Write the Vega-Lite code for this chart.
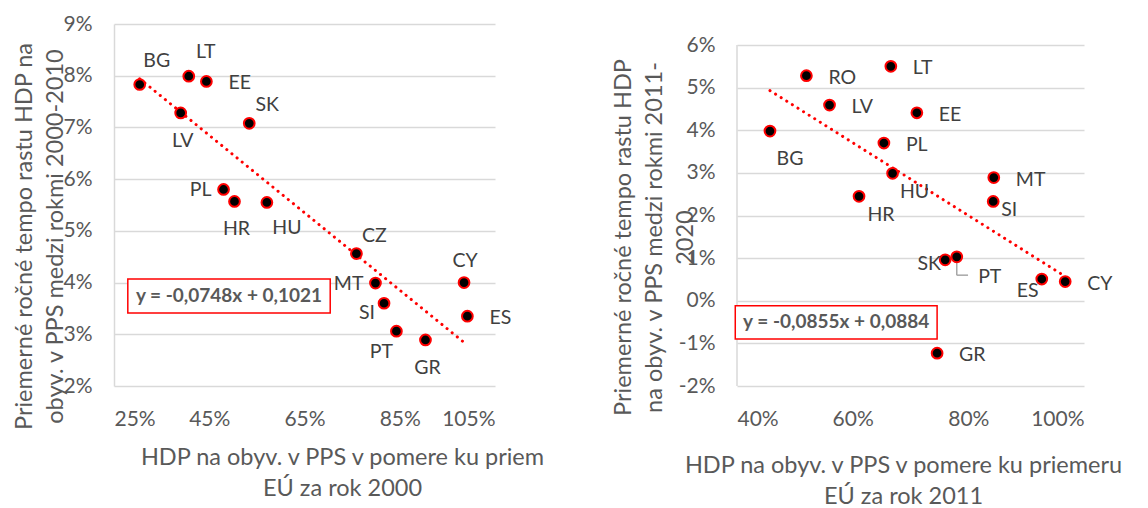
{
  "$schema": "https://vega.github.io/schema/vega-lite/v6.json",
  "background": "white",
  "padding": {"left": 11, "top": 13, "right": 0, "bottom": 0},
  "spacing": 242,
  "bounds": "flush",
  "config": {
    "font": "Lato",
    "view": {"stroke": null},
    "axis": {
      "labelColor": "#595959", "titleColor": "#595959",
      "labelFont": "Lato", "titleFont": "Lato",
      "labelFontSize": 21, "titleFontSize": 23.5, "titleFontWeight": "normal",
      "gridColor": "#d9d9d9", "gridWidth": 1.5,
      "domainColor": "#d9d9d9", "domainWidth": 1.5,
      "ticks": false, "titleLineHeight": 31
    },
    "text": {"font": "Lato", "fontSize": 19.5, "color": "#404040"}
  },
  "datasets": {
    "d2000": [
      {"c": "BG", "x": 0.304, "y": 0.0783},
      {"c": "LT", "x": 0.407, "y": 0.0799},
      {"c": "EE", "x": 0.444, "y": 0.0789},
      {"c": "LV", "x": 0.390, "y": 0.0728},
      {"c": "SK", "x": 0.534, "y": 0.0708},
      {"c": "PL", "x": 0.480, "y": 0.0580},
      {"c": "HR", "x": 0.503, "y": 0.0557},
      {"c": "HU", "x": 0.571, "y": 0.0555},
      {"c": "CZ", "x": 0.759, "y": 0.0456},
      {"c": "MT", "x": 0.799, "y": 0.0399},
      {"c": "SI", "x": 0.817, "y": 0.0360},
      {"c": "CY", "x": 0.985, "y": 0.0400},
      {"c": "ES", "x": 0.992, "y": 0.0335},
      {"c": "PT", "x": 0.843, "y": 0.0306},
      {"c": "GR", "x": 0.904, "y": 0.0289}
    ],
    "d2011": [
      {"c": "RO", "x": 0.520, "y": 0.0528},
      {"c": "LT", "x": 0.666, "y": 0.0550},
      {"c": "LV", "x": 0.560, "y": 0.0459},
      {"c": "EE", "x": 0.711, "y": 0.0441},
      {"c": "BG", "x": 0.457, "y": 0.0398},
      {"c": "PL", "x": 0.654, "y": 0.0370},
      {"c": "HU", "x": 0.669, "y": 0.0299},
      {"c": "HR", "x": 0.611, "y": 0.0245},
      {"c": "MT", "x": 0.844, "y": 0.0289},
      {"c": "SI", "x": 0.843, "y": 0.0233},
      {"c": "SK", "x": 0.760, "y": 0.0096},
      {"c": "PT", "x": 0.780, "y": 0.0103},
      {"c": "ES", "x": 0.927, "y": 0.0051},
      {"c": "CY", "x": 0.9675, "y": 0.0045},
      {"c": "GR", "x": 0.746, "y": -0.0123}
    ],
    "t2000": [
      {"x": 0.304, "y": 0.0794},
      {"x": 0.992, "y": 0.0279}
    ],
    "t2011": [
      {"x": 0.457, "y": 0.0493},
      {"x": 0.9675, "y": 0.0057}
    ]
  },
  "hconcat": [
    {
      "width": 381,
      "height": 362,
      "layer": [
        {
          "data": {"name": "t2000"},
          "mark": {"type": "line", "color": "#ff0000", "strokeWidth": 3, "strokeCap": "round", "strokeDash": [0.1, 6.5]},
          "encoding": {
            "x": {"field": "x", "type": "quantitative",
              "scale": {"domain": [0.25, 1.05], "nice": false, "zero": false},
              "axis": {"values": [0.25, 0.45, 0.65, 0.85, 1.05], "format": ".0%", "grid": false, "domain": false,
                "labelPadding": 22, "titlePadding": 16, "titleX": 228,
                "title": ["HDP na obyv. v PPS v pomere ku priem", "EÚ za rok 2000"]}},
            "y": {"field": "y", "type": "quantitative",
              "scale": {"domain": [0.02, 0.09], "nice": false, "zero": false},
              "axis": {"values": [0.02, 0.03, 0.04, 0.05, 0.06, 0.07, 0.08, 0.09], "format": ".0%", "grid": true, "domain": true,
                "labelPadding": 22, "titleX": -90, "titleY": 212, "titleBaseline": "middle",
                "title": ["Priemerné ročné tempo rastu HDP na", "obyv. v PPS medzi rokmi 2000-2010"]}}
          }
        },
        {
          "data": {"name": "d2000"},
          "mark": {"type": "point", "filled": true, "fill": "#000000", "stroke": "#ff0000", "strokeWidth": 2, "size": 115, "opacity": 1},
          "encoding": {"x": {"field": "x", "type": "quantitative"}, "y": {"field": "y", "type": "quantitative"}}
        },
        {
          "data": {"name": "d2000"},
          "transform": [{"filter": {"field": "c", "oneOf": ["BG", "LT"]}}],
          "mark": {"type": "text", "dx": 17, "dy": -24},
          "encoding": {"x": {"field": "x", "type": "quantitative"}, "y": {"field": "y", "type": "quantitative"}, "text": {"field": "c"}}
        },
        {
          "data": {"name": "d2000"},
          "transform": [{"filter": {"field": "c", "oneOf": ["SK", "CZ"]}}],
          "mark": {"type": "text", "dx": 18, "dy": -18},
          "encoding": {"x": {"field": "x", "type": "quantitative"}, "y": {"field": "y", "type": "quantitative"}, "text": {"field": "c"}}
        },
        {
          "data": {"name": "d2000"},
          "transform": [{"filter": {"field": "c", "oneOf": ["EE", "ES"]}}],
          "mark": {"type": "text", "align": "left", "dx": 22, "dy": 2},
          "encoding": {"x": {"field": "x", "type": "quantitative"}, "y": {"field": "y", "type": "quantitative"}, "text": {"field": "c"}}
        },
        {
          "data": {"name": "d2000"},
          "transform": [{"filter": {"field": "c", "oneOf": ["LV", "HR", "GR"]}}],
          "mark": {"type": "text", "dx": 2, "dy": 28},
          "encoding": {"x": {"field": "x", "type": "quantitative"}, "y": {"field": "y", "type": "quantitative"}, "text": {"field": "c"}}
        },
        {
          "data": {"name": "d2000"},
          "transform": [{"filter": {"field": "c", "oneOf": ["HU"]}}],
          "mark": {"type": "text", "dx": 20, "dy": 26},
          "encoding": {"x": {"field": "x", "type": "quantitative"}, "y": {"field": "y", "type": "quantitative"}, "text": {"field": "c"}}
        },
        {
          "data": {"name": "d2000"},
          "transform": [{"filter": {"field": "c", "oneOf": ["PL", "MT"]}}],
          "mark": {"type": "text", "align": "right", "dx": -12, "dy": 1},
          "encoding": {"x": {"field": "x", "type": "quantitative"}, "y": {"field": "y", "type": "quantitative"}, "text": {"field": "c"}}
        },
        {
          "data": {"name": "d2000"},
          "transform": [{"filter": {"field": "c", "oneOf": ["SI"]}}],
          "mark": {"type": "text", "dx": -17, "dy": 10},
          "encoding": {"x": {"field": "x", "type": "quantitative"}, "y": {"field": "y", "type": "quantitative"}, "text": {"field": "c"}}
        },
        {
          "data": {"name": "d2000"},
          "transform": [{"filter": {"field": "c", "oneOf": ["PT"]}}],
          "mark": {"type": "text", "dx": -15, "dy": 21},
          "encoding": {"x": {"field": "x", "type": "quantitative"}, "y": {"field": "y", "type": "quantitative"}, "text": {"field": "c"}}
        },
        {
          "data": {"name": "d2000"},
          "transform": [{"filter": {"field": "c", "oneOf": ["CY"]}}],
          "mark": {"type": "text", "dx": 1, "dy": -22},
          "encoding": {"x": {"field": "x", "type": "quantitative"}, "y": {"field": "y", "type": "quantitative"}, "text": {"field": "c"}}
        },
        {
          "data": {"values": [{}]},
          "mark": {"type": "rect", "fill": "white", "stroke": "#ff0000", "strokeWidth": 1.5},
          "encoding": {
            "x": {"datum": 0.279, "type": "quantitative"}, "x2": {"datum": 0.704},
            "y": {"datum": 0.0407, "type": "quantitative"}, "y2": {"datum": 0.0341}
          }
        },
        {
          "data": {"values": [{}]},
          "mark": {"type": "text", "fontWeight": "bold", "fontSize": 19, "color": "#595959", "text": "y = -0,0748x + 0,1021"},
          "encoding": {
            "x": {"datum": 0.4915, "type": "quantitative"},
            "y": {"datum": 0.0374, "type": "quantitative"}
          }
        }
      ]
    },
    {
      "width": 347,
      "height": 362,
      "layer": [
        {
          "data": {"name": "t2011"},
          "mark": {"type": "line", "color": "#ff0000", "strokeWidth": 3, "strokeCap": "round", "strokeDash": [0.1, 6.5]},
          "encoding": {
            "x": {"field": "x", "type": "quantitative",
              "scale": {"domain": [0.4, 1.0], "nice": false, "zero": false},
              "axis": {"values": [0.4, 0.6, 0.8, 1.0], "format": ".0%", "grid": false, "domain": false,
                "labelPadding": 22, "titlePadding": 24, "titleX": 166,
                "title": ["HDP na obyv. v PPS v pomere ku priemeru", "EÚ za rok 2011"]}},
            "y": {"field": "y", "type": "quantitative",
              "scale": {"domain": [-0.02, 0.064927], "nice": false, "zero": false},
              "axis": {"values": [-0.02, -0.01, 0, 0.01, 0.02, 0.03, 0.04, 0.05, 0.06],
                "labelExpr": "replace(format(datum.value, '.0%'), '\u2212', '-')", "grid": true, "domain": false,
                "labelPadding": 22, "titleX": -114, "titleY": 213, "titleBaseline": "middle",
                "title": ["Priemerné ročné tempo rastu HDP", "na obyv. v PPS medzi rokmi 2011-", "2020"]}}
          }
        },
        {
          "data": {"values": [{}]},
          "mark": {"type": "rule", "color": "#d9d9d9", "strokeWidth": 1.5},
          "encoding": {
            "x": {"datum": 0.4, "type": "quantitative"},
            "y": {"datum": -0.02, "type": "quantitative"}, "y2": {"datum": 0.06}
          }
        },
        {
          "data": {"values": [{}]},
          "mark": {"type": "rule", "color": "#a6a6a6", "strokeWidth": 1.5},
          "encoding": {
            "x": {"datum": 0.78, "type": "quantitative"},
            "y": {"datum": 0.0089, "type": "quantitative"}, "y2": {"datum": 0.006}
          }
        },
        {
          "data": {"values": [{}]},
          "mark": {"type": "rule", "color": "#a6a6a6", "strokeWidth": 1.5},
          "encoding": {
            "x": {"datum": 0.78, "type": "quantitative"}, "x2": {"datum": 0.7995},
            "y": {"datum": 0.006, "type": "quantitative"}
          }
        },
        {
          "data": {"name": "d2011"},
          "mark": {"type": "point", "filled": true, "fill": "#000000", "stroke": "#ff0000", "strokeWidth": 2, "size": 115, "opacity": 1},
          "encoding": {"x": {"field": "x", "type": "quantitative"}, "y": {"field": "y", "type": "quantitative"}}
        },
        {
          "data": {"name": "d2011"},
          "transform": [{"filter": {"field": "c", "oneOf": ["RO", "LT", "LV", "EE", "PL", "MT", "CY", "GR"]}}],
          "mark": {"type": "text", "align": "left", "dx": 22, "dy": 2},
          "encoding": {"x": {"field": "x", "type": "quantitative"}, "y": {"field": "y", "type": "quantitative"}, "text": {"field": "c"}}
        },
        {
          "data": {"name": "d2011"},
          "transform": [{"filter": {"field": "c", "oneOf": ["BG"]}}],
          "mark": {"type": "text", "dx": 20, "dy": 28},
          "encoding": {"x": {"field": "x", "type": "quantitative"}, "y": {"field": "y", "type": "quantitative"}, "text": {"field": "c"}}
        },
        {
          "data": {"name": "d2011"},
          "transform": [{"filter": {"field": "c", "oneOf": ["HU", "HR"]}}],
          "mark": {"type": "text", "dx": 22, "dy": 19},
          "encoding": {"x": {"field": "x", "type": "quantitative"}, "y": {"field": "y", "type": "quantitative"}, "text": {"field": "c"}}
        },
        {
          "data": {"name": "d2011"},
          "transform": [{"filter": {"field": "c", "oneOf": ["PT"]}}],
          "mark": {"type": "text", "dx": 33, "dy": 20},
          "encoding": {"x": {"field": "x", "type": "quantitative"}, "y": {"field": "y", "type": "quantitative"}, "text": {"field": "c"}}
        },
        {
          "data": {"name": "d2011"},
          "transform": [{"filter": {"field": "c", "oneOf": ["SI"]}}],
          "mark": {"type": "text", "dx": 16, "dy": 9},
          "encoding": {"x": {"field": "x", "type": "quantitative"}, "y": {"field": "y", "type": "quantitative"}, "text": {"field": "c"}}
        },
        {
          "data": {"name": "d2011"},
          "transform": [{"filter": {"field": "c", "oneOf": ["SK"]}}],
          "mark": {"type": "text", "dx": -16, "dy": 4},
          "encoding": {"x": {"field": "x", "type": "quantitative"}, "y": {"field": "y", "type": "quantitative"}, "text": {"field": "c"}}
        },
        {
          "data": {"name": "d2011"},
          "transform": [{"filter": {"field": "c", "oneOf": ["ES"]}}],
          "mark": {"type": "text", "dx": -14, "dy": 12},
          "encoding": {"x": {"field": "x", "type": "quantitative"}, "y": {"field": "y", "type": "quantitative"}, "text": {"field": "c"}}
        },
        {
          "data": {"values": [{}]},
          "mark": {"type": "rect", "fill": "white", "stroke": "#ff0000", "strokeWidth": 1.5},
          "encoding": {
            "x": {"datum": 0.397, "type": "quantitative"}, "x2": {"datum": 0.746},
            "y": {"datum": -0.0012, "type": "quantitative"}, "y2": {"datum": -0.009}
          }
        },
        {
          "data": {"values": [{}]},
          "mark": {"type": "text", "fontWeight": "bold", "fontSize": 19, "color": "#595959", "text": "y = -0,0855x + 0,0884"},
          "encoding": {
            "x": {"datum": 0.5715, "type": "quantitative"},
            "y": {"datum": -0.0051, "type": "quantitative"}
          }
        }
      ]
    }
  ]
}
